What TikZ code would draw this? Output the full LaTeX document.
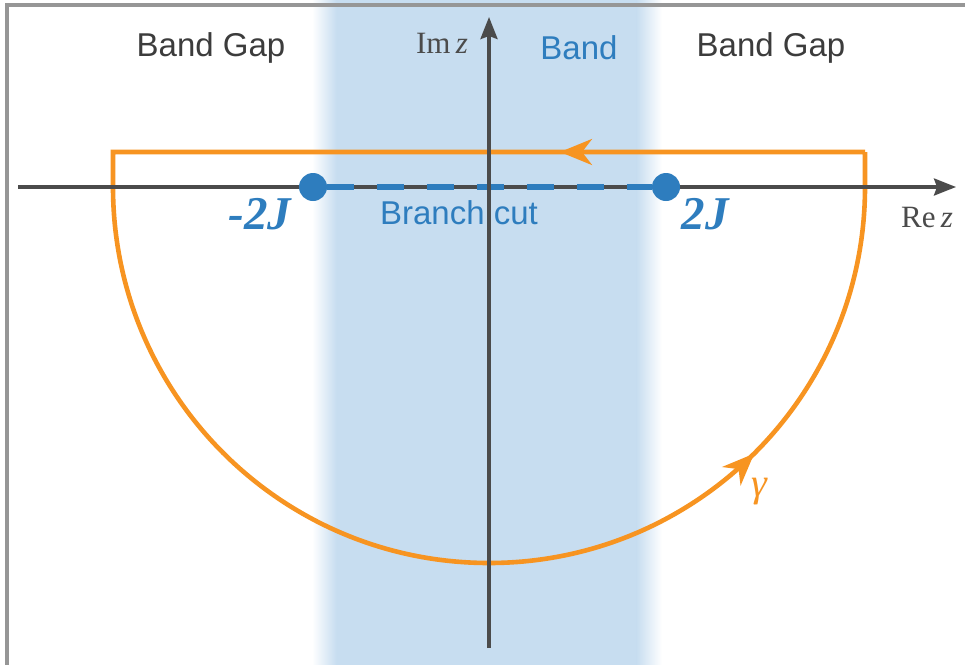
\documentclass[tikz,border=0pt]{standalone}
\usepackage{fontspec}
\setmainfont{Liberation Sans}
\newfontfamily\serifl{Liberation Serif}
\usetikzlibrary{arrows.meta,decorations.markings}
\definecolor{bandblue}{RGB}{199,221,240}
\definecolor{cutblue}{RGB}{46,125,190}
\definecolor{contour}{RGB}{247,148,33}
\definecolor{axisgray}{RGB}{75,75,75}
\definecolor{framegray}{RGB}{150,150,150}
\definecolor{textgray}{RGB}{60,60,60}
\tikzset{
  axisline/.style={draw=axisgray, line width=3.3pt, -{Stealth[length=22pt,width=17pt,inset=3pt]}},
  contourline/.style={draw=contour, line width=4.6pt},
  cutdot/.style={circle, fill=cutblue, minimum size=28pt, inner sep=0pt},
  cutline/.style={draw=cutblue, line width=6pt, dash pattern=on 27pt off 23pt},
  gaplabel/.style={text=textgray, font=\fontsize{33}{38}\selectfont},
  bandlabel/.style={text=cutblue, font=\fontsize{33}{38}\selectfont},
  axlabel/.style={text=axisgray, font=\serifl\fontsize{31}{36}\selectfont},
  jlabel/.style={text=cutblue, font=\serifl\bfseries\itshape\fontsize{47}{52}\selectfont},
  orangetip/.style={contour, line width=4pt},
}
\begin{document}
\begin{tikzpicture}[x=1pt,y=-1pt]
\useasboundingbox (0,0) rectangle (965,664);
\fill[white] (0,0) rectangle (965,664);
% band
\fill[bandblue] (336,-2) rectangle (637,666);
\shade[left color=white, right color=bandblue] (312,-2) rectangle (336.5,666);
\shade[left color=bandblue, right color=white] (636.5,-2) rectangle (662,666);
% frame
\draw[framegray, line width=3.5pt] (7,666) -- (7,5) -- (967,5);
% labels top
\node[gaplabel] (gapL) at (211,48) {Band Gap};
\node[gaplabel] (gapR) at (771,48) {Band Gap};
\node[bandlabel] (band) at (579,48) {Band};
% contour
\coordinate (c1) at (865,152);
\coordinate (c2) at (113,152);
\coordinate (c3) at (113,187);
\coordinate (c4) at (865,187);
\draw[contourline, postaction={decorate}, decoration={markings,
    mark=at position 305pt with {\arrow[orangetip]{Stealth[length=32pt,width=26pt,inset=10pt]}},
    mark=at position 1672pt with {\arrow[orangetip]{Stealth[length=32pt,width=26pt,inset=10pt]}}}]
  (c1) -- (c2) -- (c3) arc[start angle=180, end angle=0, radius=376] -- (c1);
% axes
\coordinate (xs) at (18,187);
\coordinate (xe) at (956,187);
\coordinate (ys) at (489,648);
\coordinate (ye) at (489,17);
\draw[axisline] (xs) -- (xe);
% branch cut
\node[cutdot] (m2J) at (313,187) {};
\node[cutdot] (p2J) at (666,187) {};
\draw[cutline] (m2J) -- (p2J);
\node[bandlabel] (bc) at (459,213) {Branch cut};
\draw[axisline] (ys) -- (ye);
% labels
\node[jlabel] (lm2J) at (260,214) {-2J};
\node[jlabel] (lp2J) at (705,214) {2J};
\node[axlabel] (imz) at (442,43) {Im\,\itshape z};
\node[axlabel] (rez) at (927,217) {Re\,\itshape z};
\node[text=contour, font=\serifl\itshape\fontsize{40}{44}\selectfont] (gam) at (759,492) {γ};
\end{tikzpicture}
\end{document}
